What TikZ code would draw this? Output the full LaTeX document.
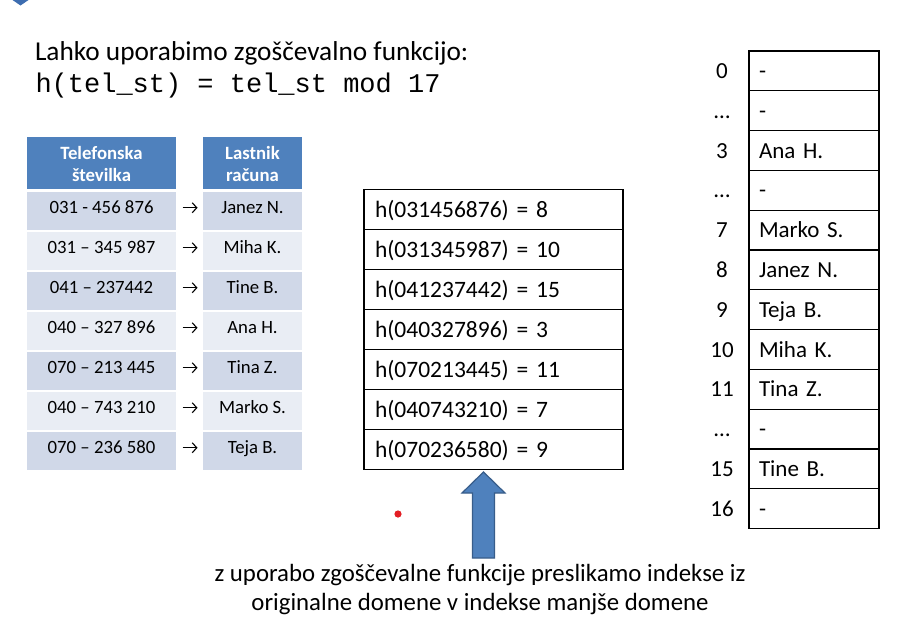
\documentclass[tikz,border=0pt]{standalone}
\usepackage{fontspec}
\setmainfont{Carlito}
\newfontfamily\codefont{Liberation Mono}
\usetikzlibrary{arrows.meta}

\definecolor{hdrblue}{HTML}{4F81BD}
\definecolor{rowdark}{HTML}{D0D8E8}
\definecolor{rowlight}{HTML}{E9EDF4}
\definecolor{arrowedge}{HTML}{385D8A}
\definecolor{bulletblue}{HTML}{3D6DB0}
\definecolor{dotred}{HTML}{E31E24}

\tikzset{
  plain/.style={inner sep=0pt, outer sep=0pt},
  hdrcell/.style={fill=hdrblue, inner sep=0pt, outer sep=0pt, minimum height=52.5pt},
  hdrtext/.style={text=white, font=\fontsize{18.75}{21.5}\selectfont\bfseries,
    align=center, inner sep=0pt, anchor=base},
  datacell/.style={inner sep=0pt, outer sep=0pt, minimum height=37.5pt,
    font=\fontsize{18.75}{22}\selectfont, text height=8pt, text depth=3pt},
  hashcell/.style={draw, line width=1.2pt, minimum width=259pt, minimum height=40pt,
    text width=237pt, inner xsep=11pt, inner ysep=0pt, align=left,
    font=\fontsize{23.5}{28}\selectfont, text height=15pt, text depth=0pt},
  slotcell/.style={draw, line width=1.2pt, minimum width=130pt, minimum height=39.8pt,
    text width=110pt, inner xsep=10pt, inner ysep=0pt, align=left,
    font=\fontsize{23}{28}\selectfont, text height=15pt, text depth=0pt},
  slotlabel/.style={inner sep=0pt, font=\fontsize{23}{28}\selectfont, text height=15pt, text depth=0pt},
  mapsto/.style={line width=1.1pt, -{Straight Barb[length=4.5pt, width=10pt]}},
}

\begin{document}
\begin{tikzpicture}[x=1pt, y=-1pt]
\useasboundingbox (0,0) rectangle (908,629);
\fill[white] (0,0) rectangle (908,629);

% corner of the slide bullet
\fill[bulletblue] (12.5,0) -- (28.5,0) -- (20.5,5.5) -- cycle;

% heading and hash function
\node[plain, anchor=base west, font=\fontsize{27.3}{30}\selectfont] (title) at (35,60)
  {Lahko uporabimo zgoščevalno funkcijo:};
\node[plain, anchor=base west, font=\fontsize{27}{30}\codefont] (formula) at (35.5,92.7)
  {h(tel\_st) = tel\_st mod 17};

% phone number -> owner table
\node[hdrcell, minimum width=149pt] (hnum) at (101.5,162.75) {};
\node[hdrcell, minimum width=99pt] (hown) at (252.5,162.75) {};
\node[hdrtext] (hnumtext) at (101.5,181) {Telefonska\\številka};
\node[hdrtext] (howntext) at (252.5,181) {Lastnik\\računa};

\foreach \num/\who/\shade [count=\i] in {
    031 - 456 876/Janez N./rowdark,
    031 – 345 987/Miha K./rowlight,
    041 – 237442/Tine B./rowdark,
    040 – 327 896/Ana H./rowlight,
    070 – 213 445/Tina Z./rowdark,
    040 – 743 210/Marko S./rowlight,
    070 – 236 580/Teja B./rowdark} {
  \node[datacell, fill=\shade, minimum width=149pt] (num\i) at (101.5,{210.75+40*(\i-1)}) {\num};
  \node[datacell, fill=\shade, minimum width=99pt] (own\i) at (252.5,{210.75+40*(\i-1)}) {\who};
  \draw[mapsto] ([xshift=6.5pt, yshift=3pt]num\i.east) -- ([xshift=-5.5pt, yshift=3pt]own\i.west);
}

% hash values
\foreach \txt [count=\i] in {
    h(031456876) = 8,
    h(031345987) = 10,
    h(041237442) = 15,
    h(040327896) = 3,
    h(070213445) = 11,
    h(040743210) = 7,
    h(070236580) = 9} {
  \node[hashcell] (hash\i) at (493.5,{189.5+40*(\i-0.5)}) {\txt};
}

% hash table slots
\foreach \lab/\val [count=\i] in {
    0/-, …/-, 3/Ana H., …/-, 7/Marko S., 8/Janez N., 9/Teja B.,
    10/Miha K., 11/Tina Z., …/-, 15/Tine B., 16/-} {
  \node[slotcell] (slot\i) at (814,{51+39.8*(\i-0.5)}) {\val};
  \node[slotlabel] (idx\i) at (722,{51+39.8*(\i-0.5)}) {\lab};
}

% block arrow pointing up at the hash values
\filldraw[fill=hdrblue, draw=arrowedge, line width=1.2pt, line join=miter]
  (483.5,472) -- (505,493) -- (494.5,493) -- (494.5,558) -- (472.5,558)
  -- (472.5,493) -- (462,493) -- cycle;

% small red dot
\fill[dotred] (398,514) circle (3.6);

% explanation
\node[plain, anchor=base, align=center, font=\fontsize{24.8}{28.3}\selectfont] (note) at (480,610)
  {z uporabo zgoščevalne funkcije preslikamo indekse iz\\originalne domene v indekse manjše domene};
\end{tikzpicture}
\end{document}
